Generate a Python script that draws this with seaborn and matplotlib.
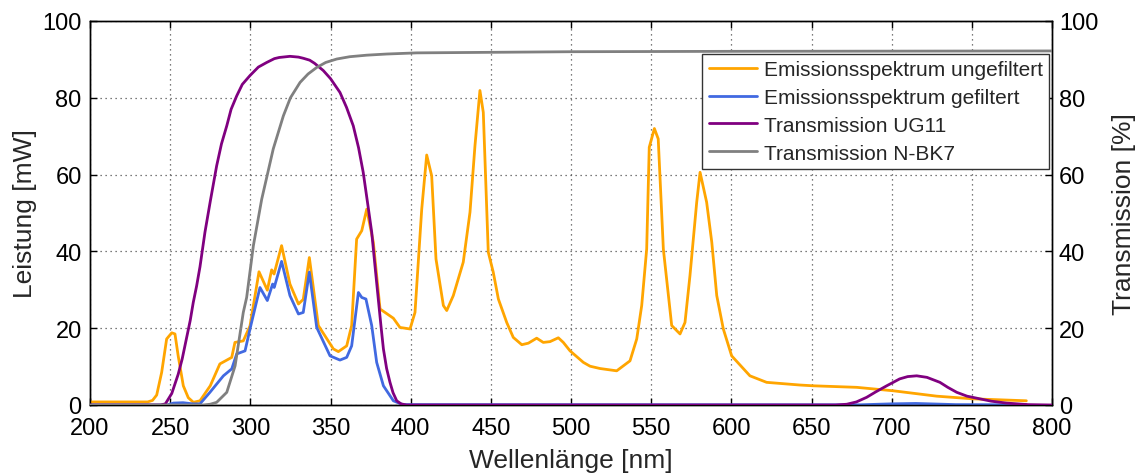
import numpy as np
import pandas as pd
import matplotlib
matplotlib.use("Agg")
import matplotlib.pyplot as plt
import seaborn as sns

# ---------------- data ----------------
wl_unfilt = [200, 236, 239, 241.6, 244.7, 247.8, 251, 253, 255, 258.2, 261.3, 264.5, 268.6,
             275, 281, 288.4, 290.4, 295.6, 299.8, 305.4, 310.6, 313.3, 314.8, 319.5, 324.7,
             330, 333, 336.8, 342.4, 351.8, 354.9, 360.1, 363.2, 366.3, 369.5, 372.6, 376.7,
             380.9, 389.2, 393.3, 399.6, 402.7, 406.9, 410, 413.1, 415.8, 420.4, 422.5, 426.6,
             432.8, 437, 440.1, 443.2, 445.3, 448.4, 451.5, 454.7, 459.9, 464, 469.3, 473.4,
             478.6, 482.7, 486.9, 492.1, 495.2, 499.4, 507.7, 511.9, 518.1, 528.5, 536.8, 541,
             544.1, 547.2, 548.8, 552, 554.4, 557.6, 562.8, 568, 571.1, 574.2, 578.4, 580.5,
             584.6, 587.8, 590.9, 595, 600.2, 611.6, 622, 642.8, 651.1, 678.2, 701, 728.1,
             750.9, 784]
p_unfilt = [0.8, 0.8, 1.2, 2.6, 8.5, 17.2, 18.8, 18.5, 12.8, 5.0, 1.9, 0.7, 1.1,
            5.0, 10.7, 12.4, 16.3, 16.7, 20.6, 34.7, 29.9, 35.2, 34.1, 41.5, 31.5,
            26.3, 27.5, 38.4, 20.7, 14.6, 13.9, 15.4, 20.7, 43.2, 45.4, 51.0, 42.4,
            25.0, 22.6, 20.2, 19.8, 24.1, 51.0, 65.1, 59.7, 38.0, 25.9, 24.6, 28.5,
            37.2, 50.2, 67.5, 81.9, 76.2, 39.8, 34.6, 27.6, 21.5, 17.6, 15.7, 16.1,
            17.4, 16.3, 16.5, 17.5, 16.3, 14.1, 11.1, 10.1, 9.5, 8.9, 11.5, 17.2,
            25.9, 40.6, 67.1, 72.0, 69.3, 40.6, 20.7, 18.5, 21.5, 33.7, 52.8, 60.6,
            52.8, 42.4, 28.5, 19.8, 12.8, 7.6, 5.9, 5.2, 5.0, 4.6, 3.7, 2.3,
            1.6, 1.1]

wl_filt = [200, 248, 252, 258, 264, 268.6, 274.8, 283.2, 288.4, 291.5, 296.7, 299.8, 306,
           310.6, 313.9, 314.9, 319.5, 324.7, 330, 333, 336.8, 341.4, 349.7, 355.9, 360.1,
           363.2, 367.4, 369.5, 372.1, 375.7, 378.8, 383, 389.2, 395, 680, 700, 715, 740, 784]
p_filt = [0.0, 0.0, 0.5, 0.6, 0.3, 0.3, 3.3, 7.6, 9.4, 13.3, 14.1, 19.8, 30.6,
          27.2, 31.5, 30.6, 37.4, 28.5, 23.7, 24.1, 34.6, 20.2, 12.8, 11.7, 12.4,
          15.4, 29.3, 28.0, 27.6, 20.7, 11.1, 5.0, 1.1, 0.1, 0.05, 0.3, 0.4, 0.1, 0.05]

wl_ug11 = [200, 244, 247, 251, 255, 257.5, 260, 262.5, 264.4, 266.5, 268.6, 271.7, 275, 279,
           282, 285.3, 288, 291.5, 295, 299.8, 305, 310.2, 315, 318, 324.7, 330, 333, 337,
           340, 345.5, 350, 355.9, 360, 364.2, 367.5, 370.4, 373, 375.7, 377.8, 379.8, 381.5,
           383, 385, 387.1, 389, 391.3, 394, 397.5, 665, 672, 678, 684.4, 690, 696.9, 705,
           710, 715.6, 722, 730.1, 735, 740.6, 747, 755.1, 762, 771.7, 785, 800]
t_ug11 = [0.0, 0.0, 0.3, 3.0, 8.0, 12.0, 17.0, 22.0, 26.7, 31.0, 36.0, 45.0, 53.0, 62.3,
          68.0, 72.7, 77.0, 80.5, 83.5, 85.8, 88.0, 89.2, 90.2, 90.5, 90.8, 90.6, 90.3, 89.8,
          89.0, 87.1, 85.0, 81.4, 77.5, 72.7, 67.0, 60.6, 53.0, 45.0, 36.0, 27.6, 20.5,
          14.6, 9.5, 5.9, 3.2, 1.1, 0.3, 0.0, 0.0, 0.2, 0.8, 2.0, 3.4, 5.0, 6.8,
          7.4, 7.6, 7.2, 5.9, 4.6, 3.3, 2.3, 1.6, 1.0, 0.5, 0.1, 0.0]

wl_nbk7 = [200, 270.7, 275, 279, 285.3, 290.5, 295.6, 297.7, 301.9, 307.1, 314.3, 320.6,
           325, 331, 336, 341.4, 347, 353.9, 362, 372.6, 385, 403.8, 500, 600, 800]
t_nbk7 = [0.0, 0.0, 0.2, 0.7, 3.3, 10.2, 24.1, 28.0, 41.5, 53.6, 66.7, 75.3,
          80.0, 84.0, 86.2, 87.9, 89.2, 90.1, 90.7, 91.1, 91.4, 91.7, 92.0, 92.1, 92.2]

labels = ["Emissionsspektrum ungefiltert", "Emissionsspektrum gefiltert",
          "Transmission UG11", "Transmission N-BK7"]
colors = ["#FFA500", "#4169E1", "#800080", "#808080"]

x_ticks = [200, 250, 300, 350, 400, 450, 500, 550, 600, 650, 700, 750, 800]
y_ticks = [0, 20, 40, 60, 80, 100]

# ---------------- style ----------------
sns.set_style("ticks")
plt.rcParams["font.family"] = ["Liberation Sans", "DejaVu Sans"]
plt.rcParams["xtick.direction"] = "in"
plt.rcParams["ytick.direction"] = "in"

fig = plt.figure(figsize=(11.48, 4.77), dpi=100)
ax = fig.add_axes([90 / 1148, 1 - 406 / 477, (1052 - 90) / 1148, (406 - 22) / 477])
ax2 = ax.twinx()

lw = 2.0
sns.lineplot(x=wl_unfilt, y=p_unfilt, ax=ax, color=colors[0], linewidth=lw, sort=False,
             estimator=None, zorder=3)
sns.lineplot(x=wl_filt, y=p_filt, ax=ax, color=colors[1], linewidth=lw, sort=False,
             estimator=None, zorder=3)
sns.lineplot(x=wl_ug11, y=t_ug11, ax=ax2, color=colors[2], linewidth=lw, sort=False,
             estimator=None, zorder=3)
sns.lineplot(x=wl_nbk7, y=t_nbk7, ax=ax2, color=colors[3], linewidth=lw, sort=False,
             estimator=None, zorder=3)

for a in (ax, ax2):
    a.set_xlim(200, 800)
    a.set_ylim(0, 100)
    a.set_yticks(y_ticks)
    for s in a.spines.values():
        s.set_color("black")
        s.set_linewidth(1.0)
        s.set_visible(True)

ax.set_xticks(x_ticks)
ax.tick_params(axis="x", which="both", top=True, bottom=True, direction="in",
               length=5, width=1, labelsize=17, pad=9, colors="black")
ax.tick_params(axis="y", left=True, right=False, direction="in", length=5, width=1,
               labelsize=17, pad=6, colors="black")
ax2.tick_params(axis="y", right=True, left=False, direction="in", length=5, width=1,
                labelsize=17, pad=5, colors="black")
ax.grid(True, which="major", linestyle=(0, (1, 3)), color="#505050", linewidth=0.9)
ax.set_axisbelow(True)

ax.set_xlabel("Wellenlänge [nm]", fontsize=19, labelpad=6)
ax.set_ylabel("Leistung [mW]", fontsize=19, labelpad=4)
ax2.set_ylabel("Transmission [%]", fontsize=19, labelpad=10)

handles = list(ax.get_lines()[:2]) + list(ax2.get_lines()[:2])
leg = ax2.legend(handles, labels, loc="upper right", bbox_to_anchor=(0.997, 0.914),
                 fontsize=15, frameon=True, fancybox=False, framealpha=1,
                 edgecolor="#333333", handlelength=2.3, handletextpad=0.35,
                 borderpad=0.3, labelspacing=0.42, borderaxespad=0)
leg.get_frame().set_linewidth(1.0)

fig.savefig("out.png", dpi=100)
